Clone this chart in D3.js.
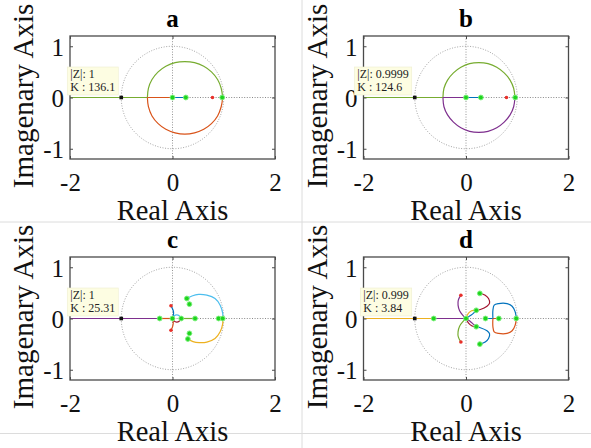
<!DOCTYPE html>
<html>
<head>
<meta charset="utf-8">
<script src="https://cdn.jsdelivr.net/npm/d3@7"></script>
<style>
body { margin: 0; background: #fff; }
</style>
</head>
<body>
<svg id="fig" width="591" height="448"></svg>
<script>
var titles = ["a", "b", "c", "d"];
var tipZ = ["1", "0.9999", "1", "0.999"];
var tipK = ["136.1", "124.6", "25.31", "3.84"];
var tipPoint = [-1, 0];
var xTicks = [-2, 0, 2];
var yTicks = [-1, 0, 1];

// panel a
var aLeft = [[-2, 0], [-0.49, 0]];
var aUpper = [[-0.49, 0], [-0.47, 0.18], [-0.40, 0.35], [-0.28, 0.50], [-0.13, 0.61], [0.05, 0.68], [0.24, 0.70], [0.43, 0.68], [0.61, 0.61], [0.76, 0.50], [0.88, 0.35], [0.95, 0.18], [0.98, 0]];
var aInner = [[-0.49, 0], [0, 0]];
var aLower = [[-0.49, 0], [-0.47, -0.18], [-0.40, -0.36], [-0.28, -0.51], [-0.13, -0.62], [0.05, -0.69], [0.24, -0.715], [0.43, -0.69], [0.61, -0.62], [0.76, -0.51], [0.88, -0.36], [0.95, -0.18], [0.98, 0]];
var aShort = [[0, 0], [0.26, 0]];
var aGreen = [[0, 0], [0.26, 0], [0.97, 0]];
var aRed = [[0.78, 0]];

// panel b
var bLeft = [[-2, 0], [-0.45, 0]];
var bUpper = [[-0.45, 0], [-0.43, 0.18], [-0.36, 0.34], [-0.245, 0.48], [-0.10, 0.59], [0.07, 0.66], [0.25, 0.68], [0.43, 0.66], [0.60, 0.59], [0.745, 0.48], [0.86, 0.34], [0.93, 0.18], [0.955, 0]];
var bInner = [[-0.45, 0], [0, 0]];
var bLower = [[-0.45, 0], [-0.43, -0.18], [-0.36, -0.34], [-0.245, -0.48], [-0.10, -0.59], [0.07, -0.66], [0.25, -0.68], [0.43, -0.66], [0.60, -0.59], [0.745, -0.48], [0.86, -0.34], [0.93, -0.18], [0.955, 0]];
var bShort = [[0, 0], [0.29, 0]];
var bGreen = [[0, 0], [0.29, 0], [0.96, 0]];
var bRed = [[0.79, 0]];

// panel c
var cLeft = [[-2, 0], [-0.25, 0]];
var cInner = [[-0.25, 0], [0, 0]];
var cStemUp = [[-0.03, 0.25], [-0.005, 0.20], [0.02, 0.13], [0.015, 0.05], [0, 0]];
var cStemDown = [[0, 0], [0.015, -0.07], [0.005, -0.15], [-0.03, -0.23]];
var cLoopUp = [[0, 0], [0.03, 0.05], [0.08, 0.07], [0.13, 0.055], [0.16, 0]];
var cLoopDown = [[0, 0], [0.03, -0.05], [0.08, -0.07], [0.13, -0.055], [0.16, 0]];
var cMid = [[0.17, 0], [0.44, 0]];
var cArcUp = [[0.28, 0.39], [0.38, 0.44], [0.51, 0.47], [0.67, 0.455], [0.83, 0.39], [0.93, 0.26], [0.98, 0.10], [0.98, 0]];
var cArcDown = [[0.30, -0.40], [0.40, -0.45], [0.52, -0.47], [0.67, -0.46], [0.83, -0.39], [0.93, -0.26], [0.98, -0.10], [0.98, 0]];
var cGreen = [[-0.25, 0], [0, 0], [0.17, 0], [0.44, 0], [0.90, 0], [0.98, 0], [0.28, 0.39], [0.33, 0.28], [0.33, -0.29], [0.30, -0.40]];
var cRed = [[-0.03, 0.25], [-0.03, -0.23]];

// panel d
var dLeft = [[-2, 0], [-0.63, 0]];
var dInner = [[-0.63, 0], [0, 0]];
var dStemUp = [[-0.10, 0.455], [-0.15, 0.36], [-0.155, 0.26], [-0.125, 0.15], [-0.065, 0.065], [0, 0]];
var dStemDown = [[-0.10, -0.46], [-0.15, -0.36], [-0.155, -0.26], [-0.125, -0.15], [-0.065, -0.065], [0, 0]];
var dFanUpA = [[0, 0], [0.045, 0.10], [0.11, 0.15], [0.2, 0.165]];
var dFanUpB = [[0, 0], [0.06, 0.04], [0.12, 0.08], [0.2, 0.16]];
var dFanDownA = [[0, 0], [0.06, -0.04], [0.12, -0.09], [0.2, -0.16]];
var dFanDownB = [[0, 0], [0.05, -0.09], [0.11, -0.14], [0.2, -0.165]];
var dHookUp = [[0.27, 0.49], [0.375, 0.455], [0.44, 0.39], [0.46, 0.30], [0.41, 0.24], [0.28, 0.175], [0.2, 0.16]];
var dHookDown = [[0.27, -0.50], [0.375, -0.46], [0.44, -0.39], [0.46, -0.30], [0.41, -0.24], [0.28, -0.18], [0.2, -0.16]];
var dAxisL = [[0.38, 0], [0.525, 0]];
var dAxisR = [[0.64, 0], [0.525, 0]];
var dLoopUp = [[0.525, 0], [0.525, 0.16], [0.55, 0.26], [0.635, 0.29], [0.80, 0.29], [0.90, 0.24], [0.96, 0.13], [0.98, 0]];
var dLoopDown = [[0.525, 0], [0.525, -0.16], [0.55, -0.26], [0.635, -0.29], [0.80, -0.29], [0.90, -0.24], [0.96, -0.13], [0.98, 0]];
var dGreen = [[-0.63, 0], [0, 0], [0.2, 0.16], [0.2, -0.16], [0.27, 0.49], [0.27, -0.50], [0.38, 0], [0.64, 0], [0.98, 0]];
var dRed = [[-0.10, 0.455], [-0.10, -0.46]];

var blue = "#0072bd", orange = "#d95319", yellow = "#edb120", purple = "#7e2f8e",
    green = "#77ac30", cyan = "#4dbeee", maroon = "#a2142f";
var serif = "'Liberation Serif', 'Times New Roman', Tinos, 'DejaVu Serif', 'Noto Serif', serif";

var panels = [
  { ox: 0, oy: 0, clip: [0, 0, 302, 221.5],
    lines: [aLeft, aUpper, aInner, aLower, aShort],
    colours: [green, green, orange, orange, blue], green: aGreen, red: aRed },
  { ox: 293.5, oy: 0, clip: [302.5, 0, 289, 221.5],
    lines: [bLeft, bUpper, bInner, bLower, bShort],
    colours: [green, green, purple, purple, blue], green: bGreen, red: bRed },
  { ox: 0, oy: 221, clip: [0, 222.5, 302, 226],
    lines: [cLeft, cInner, cStemUp, cStemDown, cLoopUp, cLoopDown, cMid, cArcUp, cArcDown],
    colours: [purple, orange, blue, orange, cyan, maroon, green, cyan, yellow], green: cGreen, red: cRed },
  { ox: 293.5, oy: 221, clip: [302.5, 222.5, 289, 226],
    lines: [dLeft, dInner, dStemUp, dStemDown, dFanUpA, dFanUpB, dFanDownA, dFanDownB, dHookUp, dHookDown, dAxisL, dAxisR, dLoopUp, dLoopDown],
    colours: [yellow, purple, purple, green, yellow, blue, purple, maroon, maroon, blue, blue, orange, blue, orange], green: dGreen, red: dRed }
];

var svg = d3.select("#fig");
var defs = svg.append("defs");

// panel separators
svg.append("line").attr("x1", 302).attr("x2", 302).attr("y1", 0).attr("y2", 448)
  .attr("stroke", "#dcdcdc").attr("stroke-width", 1);
svg.append("line").attr("x1", 0).attr("x2", 591).attr("y1", 222).attr("y2", 222)
  .attr("stroke", "#dcdcdc").attr("stroke-width", 1);
svg.append("line").attr("x1", 0).attr("x2", 591).attr("y1", 433.5).attr("y2", 433.5)
  .attr("stroke", "#dcdcdc").attr("stroke-width", 1);

var x = d3.scaleLinear().domain([-2, 2]).range([70, 275]);
var y = d3.scaleLinear().domain([-1.2, 1.2]).range([159, 36]);

var line = d3.line()
  .x(function(d) { return x(d[0]); })
  .y(function(d) { return y(d[1]); })
  .curve(d3.curveCatmullRom.alpha(0.5));

var circlePts = d3.range(0, 361, 3);

panels.forEach(function(p, i) {
  defs.append("clipPath").attr("id", "clip" + i)
    .append("rect").attr("x", p.clip[0]).attr("y", p.clip[1]).attr("width", p.clip[2]).attr("height", p.clip[3]);
  var outer = svg.append("g").attr("clip-path", "url(#clip" + i + ")");
  var g = outer.append("g").attr("transform", "translate(" + p.ox + "," + p.oy + ")");

  // dotted reference lines: unit circle and the two axes
  g.append("path")
    .attr("d", d3.line().x(function(a) { return x(Math.cos(a * Math.PI / 180)); })
      .y(function(a) { return y(Math.sin(a * Math.PI / 180)); })(circlePts))
    .attr("fill", "none").attr("stroke", "#9a9a9a").attr("stroke-width", 0.9).attr("stroke-dasharray", "1,1.6");
  g.append("line").attr("x1", x(-2)).attr("x2", x(2)).attr("y1", y(0)).attr("y2", y(0))
    .attr("stroke", "#7a7a7a").attr("stroke-width", 0.9).attr("stroke-dasharray", "1,1.6");
  g.append("line").attr("x1", x(0)).attr("x2", x(0)).attr("y1", y(1.2)).attr("y2", y(-1.2))
    .attr("stroke", "#8a8a8a").attr("stroke-width", 0.9).attr("stroke-dasharray", "1,1.6");

  // locus branches
  g.selectAll("path.branch").data(p.lines).enter().append("path")
    .attr("class", "branch")
    .attr("d", line)
    .attr("fill", "none")
    .attr("stroke", function(d, j) { return p.colours[j]; })
    .attr("stroke-width", 1.2);

  // poles / zeros
  g.selectAll("circle.gm").data(p.green).enter().append("circle")
    .attr("class", "gm")
    .attr("cx", function(d) { return x(d[0]); })
    .attr("cy", function(d) { return y(d[1]); })
    .attr("r", 2.4)
    .attr("fill", "#1ed41e").attr("stroke", "#7df07d").attr("stroke-width", 1);
  g.selectAll("circle.rm").data(p.red).enter().append("circle")
    .attr("class", "rm")
    .attr("cx", function(d) { return x(d[0]); })
    .attr("cy", function(d) { return y(d[1]); })
    .attr("r", 1.8)
    .attr("fill", "#e8302a");
  g.append("rect")
    .attr("x", x(tipPoint[0]) - 1.8).attr("y", y(tipPoint[1]) - 1.8)
    .attr("width", 3.6).attr("height", 3.6).attr("fill", "#111");

  // frame
  g.append("rect").attr("x", 70).attr("y", 36).attr("width", 205).attr("height", 123)
    .attr("fill", "none").attr("stroke", "#4a4a4a").attr("stroke-width", 1.3);

  var fmt = function(d) { return String(d); };
  var xb = g.append("g").attr("transform", "translate(0,159)")
    .call(d3.axisBottom(x).tickValues(xTicks).tickSize(-3).tickPadding(14).tickFormat(fmt));
  var xt = g.append("g").attr("transform", "translate(0,36)")
    .call(d3.axisTop(x).tickValues(xTicks).tickSize(-3).tickFormat(""));
  var yl = g.append("g").attr("transform", "translate(70,0)")
    .call(d3.axisLeft(y).tickValues(yTicks).tickSize(-3).tickPadding(6).tickFormat(fmt));
  var yr = g.append("g").attr("transform", "translate(275,0)")
    .call(d3.axisRight(y).tickValues(yTicks).tickSize(-3).tickFormat(""));
  [xb, xt, yl, yr].forEach(function(ax) {
    ax.attr("font-family", serif);
    ax.select(".domain").remove();
    ax.selectAll(".tick line").attr("stroke", "#4a4a4a");
    ax.selectAll("text").attr("font-size", 25).attr("fill", "#111");
  });
  yl.selectAll("text").attr("dy", "0.36em");

  // title and axis labels
  g.append("text").attr("x", 172.5).attr("y", 27).attr("text-anchor", "middle")
    .attr("font-size", 25).attr("font-weight", "bold").text(titles[i]);
  g.append("text").attr("x", 172.5).attr("y", 220).attr("text-anchor", "middle")
    .attr("font-size", 28.5).attr("fill", "#111").text("Real Axis");
  g.append("text").attr("transform", "translate(33,96) rotate(-90)").attr("text-anchor", "middle")
    .attr("font-size", 29).attr("fill", "#111").text("Imagenary Axis");

  // data tip
  var tip = g.append("g");
  var box = tip.append("rect").attr("fill", "#fdfde2").attr("stroke", "#eeeed0").attr("stroke-width", 0.6);
  var t1 = tip.append("text").attr("font-size", 12).attr("fill", "#222").text("|Z|: " + tipZ[i]);
  var t2 = tip.append("text").attr("font-size", 12).attr("fill", "#222").text("K : " + tipK[i]);
  g.selectAll("text").attr("font-family", serif);
  var w = Math.max(t1.node().getComputedTextLength(), t2.node().getComputedTextLength()) + 6;
  var right = x(tipPoint[0]) - 3, bottom = y(tipPoint[1]) - 2.5;
  box.attr("x", right - w).attr("y", bottom - 28).attr("width", w).attr("height", 28);
  t1.attr("x", right - w + 3).attr("y", bottom - 17.5);
  t2.attr("x", right - w + 3).attr("y", bottom - 4);
});
</script>
</body>
</html>
